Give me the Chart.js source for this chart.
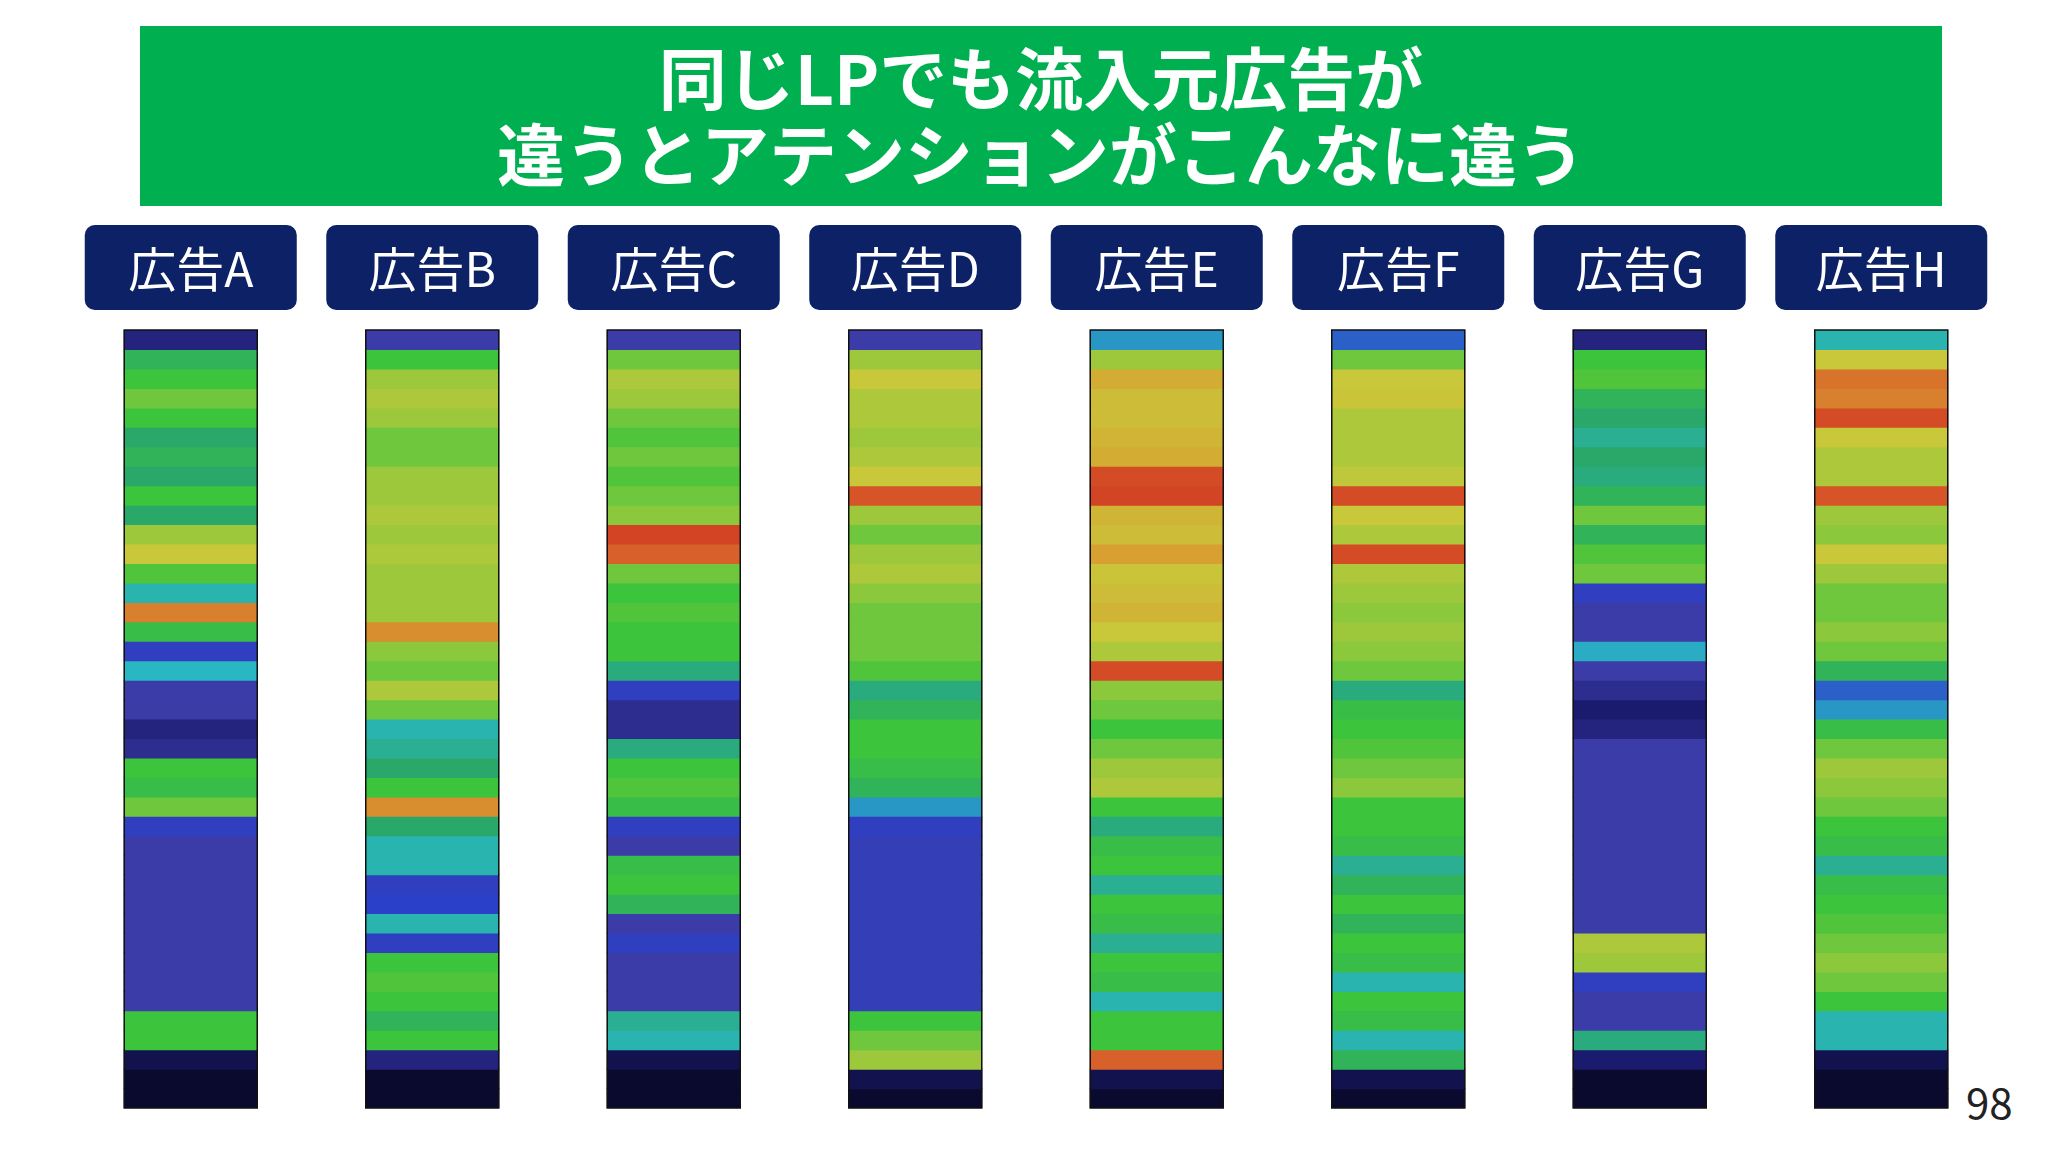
<!DOCTYPE html>
<html>
<head>
<meta charset="utf-8">
<script src="https://cdn.jsdelivr.net/npm/chart.js@4"></script>
<style>
  body { margin: 0; background: #fff; width: 2048px; height: 1152px; overflow: hidden; position: relative; font-family: "Noto Sans CJK JP", sans-serif; }
  #banner { position: absolute; left: 140px; top: 26px; width: 1802px; height: 180px; background: #00b050; color: #fff;
    font-weight: bold; font-size: 68px; line-height: 76px; text-align: center; padding-top: 12px; box-sizing: border-box; }
  #page { position: absolute; left: 1966px; top: 1070px; font-size: 42px; color: #222; }
  canvas { position: absolute; left: 0; top: 0; }
</style>
</head>
<body>
<div id="banner">同じLPでも流入元広告が<br>違うとアテンションがこんなに違う</div>
<div id="page">98</div>
<canvas id="myChart" width="2048" height="1152"></canvas>
<script>
const ads = ['広告A', '広告B', '広告C', '広告D', '広告E', '広告F', '広告G', '広告H']

// attention level per band (top to bottom), 0 = none, 1 = max
const adA = [0.1,0.45,0.5,0.55,0.5,0.42,0.45,0.42,0.5,0.42,0.6,0.65,0.52,0.35,0.8,0.48,0.2,0.33,0.15,0.15,0.1,0.12,0.5,0.48,0.55,0.2,0.15,0.15,0.15,0.15,0.15,0.15,0.15,0.15,0.15,0.5,0.5,0.05,0.02,0.02]
const adB = [0.15,0.5,0.6,0.62,0.6,0.55,0.55,0.6,0.6,0.62,0.6,0.62,0.6,0.6,0.6,0.78,0.58,0.55,0.62,0.55,0.35,0.38,0.42,0.5,0.78,0.42,0.35,0.35,0.2,0.22,0.35,0.2,0.5,0.52,0.5,0.45,0.5,0.1,0.02,0.02]
const adC = [0.15,0.55,0.62,0.6,0.55,0.52,0.55,0.52,0.55,0.58,0.92,0.85,0.55,0.5,0.52,0.5,0.5,0.4,0.2,0.12,0.12,0.4,0.5,0.52,0.48,0.2,0.15,0.48,0.5,0.45,0.15,0.2,0.15,0.15,0.15,0.38,0.35,0.05,0.02,0.02]
const adD = [0.15,0.6,0.65,0.62,0.62,0.6,0.62,0.65,0.88,0.6,0.55,0.6,0.62,0.58,0.55,0.55,0.55,0.52,0.4,0.45,0.5,0.5,0.48,0.45,0.3,0.2,0.18,0.18,0.18,0.18,0.18,0.18,0.18,0.18,0.18,0.5,0.55,0.6,0.05,0.02]
const adE = [0.3,0.6,0.72,0.68,0.68,0.7,0.72,0.9,0.92,0.7,0.68,0.75,0.66,0.68,0.7,0.65,0.62,0.9,0.58,0.55,0.5,0.55,0.6,0.62,0.5,0.4,0.48,0.5,0.38,0.5,0.48,0.38,0.5,0.48,0.35,0.5,0.5,0.85,0.05,0.02]
const adF = [0.25,0.55,0.65,0.66,0.62,0.62,0.62,0.64,0.9,0.65,0.62,0.9,0.62,0.6,0.58,0.6,0.58,0.55,0.4,0.48,0.5,0.52,0.55,0.58,0.5,0.5,0.48,0.38,0.45,0.5,0.45,0.5,0.48,0.35,0.5,0.48,0.35,0.45,0.05,0.02]
const adG = [0.1,0.5,0.52,0.45,0.42,0.38,0.42,0.4,0.45,0.55,0.45,0.52,0.55,0.2,0.15,0.15,0.32,0.15,0.12,0.08,0.1,0.15,0.15,0.15,0.15,0.15,0.15,0.15,0.15,0.15,0.15,0.62,0.6,0.2,0.15,0.15,0.4,0.08,0.02,0.02]
const adH = [0.35,0.65,0.82,0.8,0.9,0.65,0.62,0.62,0.88,0.6,0.58,0.65,0.6,0.55,0.55,0.58,0.55,0.45,0.25,0.3,0.48,0.55,0.6,0.58,0.55,0.5,0.48,0.38,0.48,0.5,0.52,0.55,0.58,0.55,0.5,0.35,0.35,0.05,0.02,0.02]
const levels = [adA, adB, adC, adD, adE, adF, adG, adH]

// muted jet colour map
const stops = [
  [0, [5, 5, 26]], [0.08, [26, 26, 110]], [0.15, [60, 60, 168]], [0.22, [42, 64, 200]],
  [0.33, [41, 183, 196]], [0.42, [42, 168, 106]], [0.5, [60, 196, 60]], [0.58, [140, 200, 60]],
  [0.65, [200, 200, 58]], [0.75, [216, 160, 48]], [0.85, [216, 96, 42]], [0.95, [208, 56, 32]], [1, [200, 40, 30]]
]
const colorFor = v => {
  for (let i = 1; i < stops.length; i++) {
    if (v <= stops[i][0]) {
      const [a, ca] = stops[i - 1], [b, cb] = stops[i]
      const t = (v - a) / (b - a)
      const c = ca.map((x, k) => Math.round(x + (cb[k] - x) * t))
      return `rgb(${c[0]},${c[1]},${c[2]})`
    }
  }
  return 'rgb(200,40,30)'
}

const bands = adA.length
const datasets = []
for (let b = 0; b < bands; b++) {
  datasets.push({
    data: ads.map(() => 1),
    backgroundColor: levels.map(l => colorFor(l[b])),
    borderWidth: 0,
    inflateAmount: 0.6,
    barPercentage: 0.55,
    categoryPercentage: 1
  })
}

const decor = {
  id: 'decor',
  afterDraw(chart) {
    const { ctx, scales: { x, y } } = chart
    ctx.save()
    ads.forEach((name, i) => {
      const cx = x.getPixelForValue(i)
      ctx.fillStyle = '#0c2166'
      ctx.beginPath()
      ctx.roundRect(cx - 106, 225, 212, 85, 10)
      ctx.fill()
      ctx.fillStyle = '#fff'
      ctx.font = '48px "Noto Sans CJK JP"'
      ctx.textAlign = 'center'
      ctx.textBaseline = 'middle'
      ctx.fillText(name, cx, 269)
      ctx.strokeStyle = '#111'
      ctx.lineWidth = 1.5
      const top = y.getPixelForValue(0), bot = y.getPixelForValue(bands)
      ctx.strokeRect(cx - 66.5, top, 133, bot - top)
    })
    ctx.restore()
  }
}

new Chart(document.getElementById('myChart'), {
  type: 'bar',
  data: { labels: ads, datasets },
  options: {
    responsive: false,
    animation: false,
    layout: { padding: { left: 70, right: 46, top: 330, bottom: 44 } },
    plugins: { legend: { display: false }, tooltip: { enabled: false } },
    scales: {
      x: { stacked: true, display: false },
      y: { stacked: true, display: false, reverse: true, min: 0, max: bands }
    }
  },
  plugins: [decor]
})
</script>
</body>
</html>
